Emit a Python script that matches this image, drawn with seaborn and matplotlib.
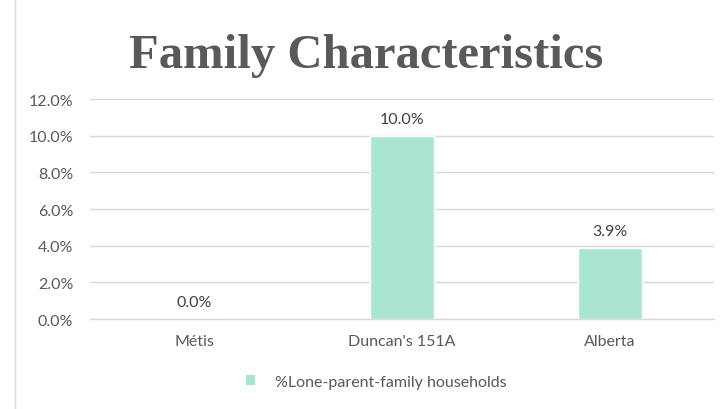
import matplotlib
matplotlib.use("Agg")
import matplotlib.pyplot as plt
import seaborn as sns
import pandas as pd
from matplotlib.lines import Line2D
from matplotlib.patches import Patch

categories = ["Métis", "Duncan's 151A", "Alberta"]
values = [0.0, 10.0, 3.9]
series_name = "%Lone-parent-family households"
title = "Family Characteristics"
yticks = [0, 2, 4, 6, 8, 10, 12]

sns.set_theme(style="white")
plt.rcParams['font.family'] = ['Lato', 'DejaVu Sans']

df = pd.DataFrame({"cat": categories, "val": values})

W, H = 721, 410
fig = plt.figure(figsize=(W / 100, H / 100), dpi=100)
ax = fig.add_axes([90 / W, 1 - 320 / H, (714 - 90) / W, 220 / H])

bar_color = "#A9E5D2"
sns.barplot(data=df, x="cat", y="val", color=bar_color, width=0.31,
            saturation=1, ax=ax, zorder=3)

ax.set_ylim(0, 12)
ax.set_xlim(-0.5, 2.5)
ax.set_yticks(yticks)
ax.set_yticklabels([f"{t:.1f}%" for t in yticks])
ax.yaxis.grid(True, color="#D9D9D9", linewidth=1)
ax.set_axisbelow(True)
for s in ["top", "right", "left"]:
    ax.spines[s].set_visible(False)
ax.spines["bottom"].set_color("#D9D9D9")
ax.spines["bottom"].set_linewidth(1)
ax.tick_params(axis="both", length=0, labelsize=11.5, colors="#595959")
ax.tick_params(axis="y", pad=12)
ax.tick_params(axis="x", pad=11)
ax.set_xlabel("")
ax.set_ylabel("")

for i, v in enumerate(values):
    ax.annotate(f"{v:.1f}%", (i, v), xytext=(0, 7), textcoords="offset points",
                ha="center", va="bottom", fontsize=11.5, color="#404040")

fig.text(366 / W, 1 - 56 / H, title, ha="center", va="center",
         fontsize=35, fontweight="bold", color="#595959",
         family=["Liberation Serif", "DejaVu Serif"])

handle = Patch(facecolor=bar_color, edgecolor="none")
fig.legend([handle], [series_name], loc="center", bbox_to_anchor=(376 / W, 1 - 383 / H),
           frameon=False, fontsize=11.5, labelcolor="#595959",
           handlelength=0.6, handleheight=0.6, handletextpad=1.2)

fig.add_artist(Line2D([15 / W, 15 / W], [0, 1], transform=fig.transFigure,
                      color="#D9D9D9", linewidth=1))

fig.savefig("out.png", dpi=100)
